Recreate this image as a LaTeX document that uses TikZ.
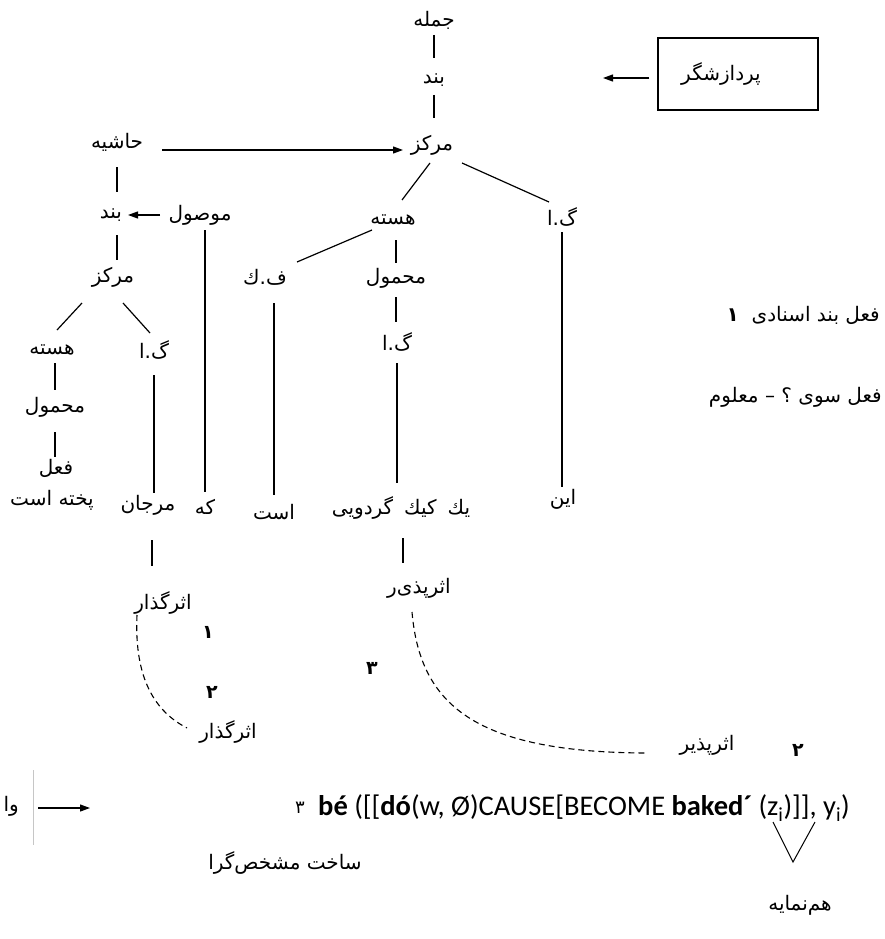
\documentclass[tikz,border=0pt]{standalone}
\usepackage{fontspec}
\TeXXeTstate=1
\newfontfamily\fa[Script=Arabic]{DejaVu Sans}
\newfontfamily\lat{Carlito}
\usetikzlibrary{arrows.meta}
% right-to-left Persian run
\newcommand\rtl[1]{{\fa\beginR #1\endR}}
\newcommand\zw{^^^^200c}
\begin{document}
\begin{tikzpicture}[x=1pt,y=-1pt,
  w/.style={font=\fa\fontsize{20}{24}\selectfont, inner sep=0pt},
  nm/.style={font=\fa\bfseries\fontsize{19}{22}\selectfont, inner sep=0pt},
  ln/.style={line width=1.2pt},
  arr/.style={line width=1.2pt,-{Triangle[length=10pt,width=7pt]}},
  dsh/.style={line width=1.1pt, dash pattern=on 6pt off 4pt},
  boxed/.style={draw, line width=1.2pt, minimum width=160pt, minimum height=72pt, inner sep=0pt},
]
\useasboundingbox (0,0) rectangle (884,939);

% ---- main clause ----
\node[w] (jomle)   at (434,20)  {\rtl{جمله}};
\node[w] (band1)   at (434,80)  {\rtl{بند}};
\node[w] (markaz1) at (432,145) {\rtl{مرکز}};
\node[boxed] (procbox) at (738,74) {};
\node[w] (proc)    at (721,74)  {\rtl{پردازشگر}};
\coordinate (procend) at (603,78);

\node[w] (hasteh1) at (393,220) {\rtl{هسته}};
\node[w] (ga1)     at (562,217) {\rtl{گ.ا}};
\node[w] (fk)      at (265,277) {\rtl{ف.ك}};
\node[w] (mahmul1) at (396,278) {\rtl{محمول}};
\node[w] (gamid)   at (397,342) {\rtl{گ.ا}};
\node[w] (yek)     at (401,508) {\rtl{یك\hspace{11pt}كیك\hspace{11pt}گردویی}};
\node[w] (in)      at (563,499) {\rtl{این}};
\node[w] (ast)     at (274,512) {\rtl{است}};
\node[w] (asarp1)  at (419,588) {\rtl{اثرپذی\zw ر}};

% ---- margin clause ----
\node[w] (hashie)  at (117,142) {\rtl{حاشیه}};
\node[w] (band2)   at (111,215) {\rtl{بند}};
\node[w] (mowsul)  at (200,215) {\rtl{موصول}};
\node[w] (markaz2) at (113,277) {\rtl{مرکز}};
\node[w] (hasteh2) at (52,350)  {\rtl{هسته}};
\node[w] (ga2)     at (154,350) {\rtl{گ.ا}};
\node[w] (mahmul2) at (55,407)  {\rtl{محمول}};
\node[w] (fel)     at (56,468)  {\rtl{فعل}};
\node[w] (pokhte)  at (52,500)  {\rtl{پخته است}};
\node[w] (marjan)  at (148,505) {\rtl{مرجان}};
\node[w] (ke)      at (205,507) {\rtl{که}};
\node[w] (asar1)   at (163,603) {\rtl{اثرگذار}};
\node[w] (asar2)   at (228,732) {\rtl{اثرگذار}};
\node[w] (asarp2)  at (707,745) {\rtl{اثرپذیر}};

% ---- numbers and notes ----
\node[nm] (one)  at (208,632) {\rtl{۱}};
\node[nm] (two1) at (212,692) {\rtl{۲}};
\node[nm] (thr)  at (372,668) {\rtl{۳}};
\node[nm] (two2) at (798,750) {\rtl{۲}};
\node[w, anchor=east] (note1) at (880,315) {\rtl{فعل بند اسنادی \ {\bfseries ۱}}};
\node[w, anchor=east] (note2) at (882,397) {\rtl{فعل سوی ؟ – معلوم}};

% ---- semantic representation ----
\node[w, font=\fa\fontsize{18}{22}\selectfont] (thr2) at (300,808) {\rtl{۳}};
\node[anchor=west, inner sep=0pt, font=\lat\fontsize{28.5}{34}\selectfont] (lsr) at (318,808)
  {\textbf{bé} ([[\textbf{dó}(w, Ø)CAUSE[BECOME \textbf{baked´} (z\textsubscript{i})]], y\textsubscript{i})};
\node[w, anchor=east] (vaj) at (19,806) {\rtl{وا}};
\node[w] (sakht) at (285,863) {\rtl{ساخت مشخص\zw گرا}};
\node[w] (ham)   at (800,905) {\rtl{هم\zw نمایه}};

\coordinate (g1) at (33,770);
\coordinate (g2) at (33,845);
\coordinate (a1) at (38,808);
\coordinate (a2) at (90,808);
\coordinate (v1) at (773,822);
\coordinate (v2) at (793,862);
\coordinate (v3) at (815,822);

% ---- tree lines ----
\draw[ln, shorten <=15pt, shorten >=22pt] (jomle.center) -- (band1.center);
\draw[ln, shorten <=15pt, shorten >=27pt] (band1.center) -- (band1.center |- markaz1.center);
\draw[ln] ([shift={(-2,18)}]markaz1.center) -- ([shift={(9,-20)}]hasteh1.center);
\draw[ln] ([shift={(30,18)}]markaz1.center) -- ([shift={(-13,-15)}]ga1.center);
\draw[ln] ([shift={(-21,10)}]hasteh1.center) -- ([shift={(32,-15)}]fk.center);
\draw[ln, shorten <=20pt, shorten >=15pt] (mahmul1.center |- hasteh1.center) -- (mahmul1.center);
\draw[ln, shorten <=19pt, shorten >=20pt] (mahmul1.center) -- (mahmul1.center |- gamid.center);
\draw[ln, shorten <=21pt, shorten >=25pt] (gamid.center) -- (gamid.center |- yek.center);
\draw[ln, shorten <=30pt, shorten >=25pt] ([xshift=2pt]yek.center) -- ([xshift=2pt]yek.center |- asarp1.center);
\draw[ln, shorten <=15pt, shorten >=12pt] (ga1.center) -- (ga1.center |- in.center);
\draw[ln, shorten <=26pt, shorten >=17pt] (ast.center |- fk.center) -- (ast.center);

\draw[ln, shorten <=25pt, shorten >=23pt] (hashie.center) -- (hashie.center |- band2.center);
\draw[ln, shorten <=20pt, shorten >=17pt] (hashie.center |- band2.center) -- (hashie.center |- markaz2.center);
\draw[ln, shorten <=15pt, shorten >=15pt] (ke.center |- mowsul.center) -- (ke.center);
\draw[ln] ([shift={(-31,26)}]markaz2.center) -- ([shift={(5,-20)}]hasteh2.center);
\draw[ln] ([shift={(10,26)}]markaz2.center) -- ([shift={(-4,-17)}]ga2.center);
\draw[ln, shorten <=13pt, shorten >=17pt] (hasteh2.center -| mahmul2.center) -- (mahmul2.center);
\draw[ln, shorten <=25pt, shorten >=11pt] (mahmul2.center) -- (mahmul2.center |- fel.center);
\draw[ln, shorten <=25pt, shorten >=12pt] (ga2.center) -- (ga2.center |- marjan.center);
\draw[ln, shorten <=35pt, shorten >=37pt] ([xshift=4pt]marjan.center) -- ([xshift=4pt]marjan.center |- asar1.center);

% ---- arrows ----
\draw[arr, shorten <=8pt] ([yshift=-4pt]procbox.west) -- (procend);
\draw[arr] ([shift={(45,8)}]hashie.center) -- ([shift={(-29,5)}]markaz1.center);
\draw[arr] ([xshift=-40pt]mowsul.center) -- ([xshift=17pt]band2.center);
\draw[arr] (a1) -- (a2);
\draw[line width=0.5pt, gray!45] (g1) -- (g2);

% ---- coreference links ----
\draw[dsh] ([shift={(-26,12)}]asar1.center) .. controls (134,680) and (156,712) .. ([shift={(-41,-4)}]asar2.center);
\draw[dsh] ([shift={(-7,24)}]asarp1.center) .. controls (420,705) and (475,752) .. ([shift={(-62,8)}]asarp2.center);

\draw[line width=1pt] (v1) -- (v2) -- (v3);
\end{tikzpicture}
\end{document}
